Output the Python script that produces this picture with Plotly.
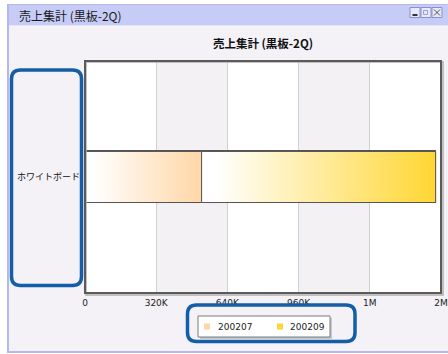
import plotly.graph_objects as go

categories = ["ホワイトボード"]
series_names = ["200207", "200209"]
values_200207 = [524000]
values_200209 = [1052000]
tick_values = [0, 320000, 640000, 960000, 1280000, 1600000]
tick_labels = ["0", "320K", "640K", "960K", "1M", "2M"]
window_title = "売上集計 (黒板-2Q)"
chart_title = "売上集計 (黒板-2Q)"

W, H = 448, 354
L, R, T, B = 85, 441, 61, 293

def px(x):
    return (x - L) / (R - L)

def py(y):
    return (B - y) / (B - T)

JP = "Noto Sans CJK JP, DejaVu Sans, sans-serif"
colors = ["#ffd7a6", "#ffd633"]
bar_w = 0.22
positions = list(range(len(categories)))

fig = go.Figure()
series = [values_200207, values_200209]
for name, vals, col in zip(series_names, series, colors):
    fig.add_trace(go.Bar(
        y=positions, x=vals, name=name, orientation="h", width=bar_w,
        marker=dict(color=col, line=dict(color="#555555", width=1)),
        hoverinfo="skip",
    ))

# gradient overlays computed from the same data
base = [0] * len(categories)
for name, vals, col in zip(series_names, series, colors):
    for i in positions:
        x0, x1 = base[i], base[i] + vals[i]
        y0, y1 = i - bar_w / 2, i + bar_w / 2
        fig.add_trace(go.Scatter(
            x=[x0, x1, x1, x0, x0], y=[y0, y0, y1, y1, y0],
            fill="toself", mode="lines",
            line=dict(color="#555555", width=1),
            fillgradient=dict(type="horizontal",
                              colorscale=[[0, "#ffffff"], [0.06, "#ffffff"], [1, col]]),
            showlegend=False, hoverinfo="skip",
        ))
        base[i] = x1

shapes = []
# window body background
shapes.append(dict(type="rect", xref="paper", yref="paper", x0=px(8), x1=px(460), y0=py(352), y1=py(5),
                   fillcolor="#f4f2f6", line=dict(color="#b4b8ee", width=2), layer="below"))
# title bar
shapes.append(dict(type="rect", xref="paper", yref="paper", x0=px(9), x1=px(460), y0=py(25), y1=py(5),
                   fillcolor="#c6ccf6", line=dict(width=0), layer="below"))
shapes.append(dict(type="line", xref="paper", yref="paper", x0=px(9), x1=px(460), y0=py(25.5), y1=py(25.5),
                   line=dict(color="#e4e6fa", width=1), layer="below"))
# plot background white
shapes.append(dict(type="rect", xref="paper", yref="paper", x0=0, x1=1, y0=0, y1=1,
                   fillcolor="#ffffff", line=dict(width=0), layer="below"))
# alternating bands
for a, b in [(tick_values[1], tick_values[2]), (tick_values[3], tick_values[4])]:
    shapes.append(dict(type="rect", xref="x", yref="paper", x0=a, x1=b, y0=0, y1=1,
                       fillcolor="#f4f1f5", line=dict(width=0), layer="below"))
# plot border shadow + frame
shapes.append(dict(type="rect", xref="paper", yref="paper", x0=px(86), x1=px(443), y0=py(295), y1=py(62),
                   line=dict(color="#b0b0b0", width=1.5), layer="above"))
shapes.append(dict(type="rect", xref="paper", yref="paper", x0=0, x1=1, y0=0, y1=1,
                   line=dict(color="#5a5a5a", width=2), layer="above"))
# window buttons
for bx in [410, 421, 432]:
    shapes.append(dict(type="rect", xref="paper", yref="paper", x0=px(bx), x1=px(bx + 10), y0=py(17.5), y1=py(7.5),
                       fillcolor="#e6e8fb", line=dict(color="#8a90c8", width=1), layer="above"))
shapes.append(dict(type="line", xref="paper", yref="paper", x0=px(412.5), x1=px(417.5), y0=py(15), y1=py(15),
                   line=dict(color="#333333", width=2)))
shapes.append(dict(type="rect", xref="paper", yref="paper", x0=px(423.5), x1=px(427.5), y0=py(14.5), y1=py(10.5),
                   line=dict(color="#9aa0d0", width=1)))
shapes.append(dict(type="line", xref="paper", yref="paper", x0=px(434), x1=px(440), y0=py(15.5), y1=py(9.5),
                   line=dict(color="#555555", width=1)))
shapes.append(dict(type="line", xref="paper", yref="paper", x0=px(434), x1=px(440), y0=py(9.5), y1=py(15.5),
                   line=dict(color="#555555", width=1)))

# legend box shadow + box (drawn manually)
shapes.append(dict(type="rect", xref="paper", yref="paper", x0=px(200), x1=px(332), y0=py(339), y1=py(318),
                   fillcolor="#c8c8cc", line=dict(width=0), layer="above"))
shapes.append(dict(type="rect", xref="paper", yref="paper", x0=px(198), x1=px(330), y0=py(337), y1=py(316),
                   fillcolor="#ffffff", line=dict(color="#7a7a7a", width=1), layer="above"))

def rounded(x0, y0, x1, y1, r):
    def P(x, y):
        return f"{px(x):.5f},{py(y):.5f}"
    return (f"M {P(x0 + r, y0)} L {P(x1 - r, y0)} Q {P(x1, y0)} {P(x1, y0 + r)} "
            f"L {P(x1, y1 - r)} Q {P(x1, y1)} {P(x1 - r, y1)} "
            f"L {P(x0 + r, y1)} Q {P(x0, y1)} {P(x0, y1 - r)} "
            f"L {P(x0, y0 + r)} Q {P(x0, y0)} {P(x0 + r, y0)} Z")

for (x0, y0, x1, y1) in [(11.5, 70, 81.5, 285.5), (187.5, 305, 355, 341.5)]:
    shapes.append(dict(type="path", xref="paper", yref="paper", path=rounded(x0, y0, x1, y1, 9),
                       line=dict(color="#135ea6", width=3.5), layer="above"))

annotations = [
    dict(text=window_title, xref="paper", yref="paper", x=px(17), y=py(15), xanchor="left", yanchor="middle",
         showarrow=False, font=dict(family=JP, size=12, color="#1a1a1a")),
]
leg_items = [(204, series_names[0], colors[0], 216), (277, series_names[1], colors[1], 288)]
for sx, name, col, tx in leg_items:
    shapes.append(dict(type="rect", xref="paper", yref="paper", x0=px(sx), x1=px(sx + 6), y0=py(329.5), y1=py(323.5),
                       fillcolor=col, line=dict(width=0), layer="above"))
    annotations.append(dict(text=name, xref="paper", yref="paper", x=px(tx), y=py(326.5), xanchor="left",
                            yanchor="middle", showarrow=False, font=dict(family="DejaVu Sans", size=9, color="#222")))

fig.update_layout(
    width=W, height=H,
    margin=dict(l=L, r=W - R, t=T, b=H - B, pad=0, autoexpand=False),
    paper_bgcolor="#ffffff", plot_bgcolor="rgba(0,0,0,0)",
    barmode="stack", bargap=0,
    showlegend=False,
    title=dict(text=f"<b>{chart_title}</b>", x=0.5, xref="paper", xanchor="center",
               y=1 - 44 / H, yref="container", yanchor="middle",
               font=dict(family=JP, size=11.5, color="#111111")),
    xaxis=dict(range=[tick_values[0], tick_values[-1]], tickvals=tick_values, ticktext=tick_labels,
               showgrid=True, gridcolor="#cfcfd4", gridwidth=1, zeroline=False, showline=False,
               automargin=False, ticklabelstandoff=3,
               ticks="", tickfont=dict(family="DejaVu Sans", size=9, color="#222"), fixedrange=True),
    yaxis=dict(range=[-0.5, len(categories) - 0.5], tickvals=positions, ticktext=categories,
               showgrid=False, zeroline=False, showline=False, ticks="", automargin=False,
               ticklabelstandoff=4,
               tickfont=dict(family=JP, size=9, color="#111"), fixedrange=True),
    shapes=shapes, annotations=annotations,
)

fig.write_html("out.html", config={"displayModeBar": False},
               post_script="document.body.style.margin='0';document.body.style.overflow='hidden';")
